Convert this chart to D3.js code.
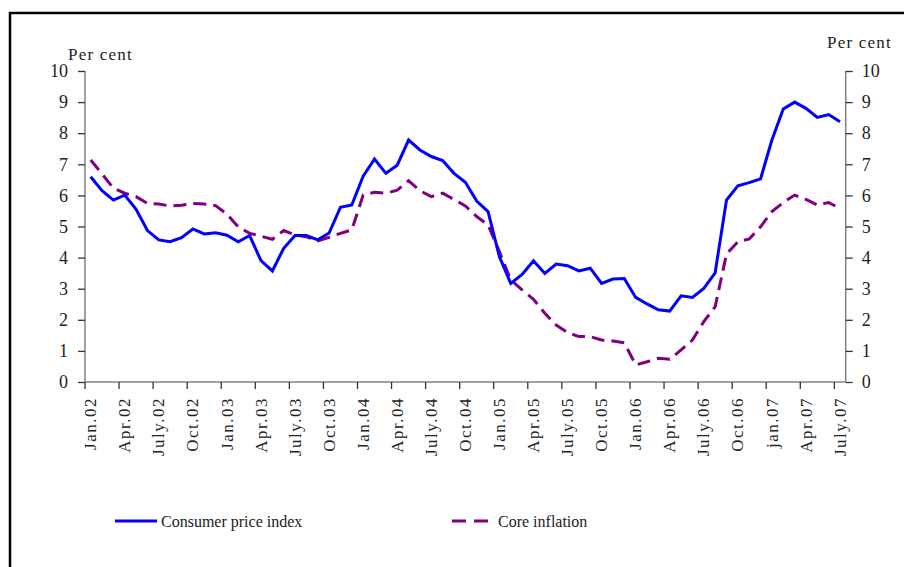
<!DOCTYPE html>
<html>
<head>
<meta charset="utf-8">
<script src="https://cdn.jsdelivr.net/npm/d3@7"></script>
<style>
  body { margin: 0; background: #fff; }
  text { font-family: "Liberation Serif", "Times New Roman", serif; fill: #222; }
</style>
</head>
<body>
<div id="chart"></div>
<script>
//  Categories: months Jan.02 .. July.07
var monthNames = ["Jan","Feb","Mar","Apr","May","June","July","Aug","Sep","Oct","Nov","Dec"];
var categories = [];
for (var yr = 2; yr <= 7; yr++) {
  for (var m = 0; m < 12; m++) {
    if (yr == 7 && m > 6) break;
    categories.push(monthNames[m] + ".0" + yr);
  }
}

//  Tick labels, one every third month
var tickLabels = ["Jan.02","Apr.02","July.02","Oct.02","Jan.03","Apr.03","July.03","Oct.03",
  "Jan.04","Apr.04","July.04","Oct.04","Jan.05","Apr.05","July.05","Oct.05",
  "Jan.06","Apr.06","July.06","Oct.06","jan.07","Apr.07","July.07"];
var yTicks = [0,1,2,3,4,5,6,7,8,9,10];

//  Series values (per cent)
var cpi = [6.60,6.15,5.85,6.01,5.55,4.87,4.57,4.51,4.64,4.92,4.76,4.80,
  4.72,4.51,4.71,3.90,3.57,4.30,4.71,4.71,4.57,4.79,5.62,5.69,
  6.62,7.17,6.71,6.97,7.78,7.46,7.25,7.12,6.71,6.42,5.82,5.48,
  4.03,3.17,3.46,3.90,3.49,3.79,3.74,3.57,3.66,3.17,3.31,3.33,
  2.72,2.51,2.32,2.28,2.77,2.72,3.01,3.51,5.85,6.31,6.41,6.53,
  7.78,8.78,9.00,8.80,8.51,8.60,8.37];
var core = [7.14,6.69,6.23,6.07,5.96,5.74,5.72,5.66,5.68,5.74,5.72,5.67,
  5.40,4.99,4.78,4.69,4.59,4.87,4.73,4.67,4.54,4.65,4.78,4.89,
  6.01,6.10,6.07,6.17,6.47,6.15,5.96,6.07,5.87,5.66,5.32,5.05,
  4.19,3.28,2.96,2.66,2.21,1.83,1.59,1.46,1.46,1.35,1.32,1.26,
  0.55,0.65,0.76,0.73,1.03,1.35,1.94,2.42,4.11,4.51,4.60,4.99,
  5.48,5.77,6.01,5.87,5.69,5.77,5.58];

// ---------------------------------------------------------------------------------- //

var W = 904, H = 567;
var plotLeft = 85, plotRight = 845.7, plotTop = 71, plotBottom = 382;

var svg = d3.select("#chart").append("svg")
  .attr("width", W)
  .attr("height", H);

//  Frame
svg.append("rect")
  .attr("x", 10).attr("y", 13)
  .attr("width", 910).attr("height", 580)
  .attr("fill", "none")
  .attr("stroke", "#000")
  .attr("stroke-width", 2.5);

var x = d3.scaleBand()
  .domain(categories)
  .range([plotLeft, plotRight])
  .padding(0);

var y = d3.scaleLinear()
  .domain([0, 10])
  .range([plotBottom, plotTop]);

function cx(i) { return x(categories[i]) + x.bandwidth() / 2; }

//  Y axes
var yLeft = d3.axisLeft(y).tickValues(yTicks).tickSize(7).tickPadding(10);
var yRight = d3.axisRight(y).tickValues(yTicks).tickSize(7).tickPadding(9);

var gl = svg.append("g").attr("transform", "translate(" + plotLeft + ",0)").call(yLeft);
var gr = svg.append("g").attr("transform", "translate(" + plotRight + ",0)").call(yRight);

[gl, gr].forEach(function(g) {
  g.select(".domain").attr("stroke", "#808080").attr("stroke-width", 1.5)
    .attr("d", "M0," + plotTop + "V" + plotBottom);
  g.selectAll(".tick line").attr("stroke", "#333").attr("stroke-width", 1.3);
  g.selectAll(".tick text")
    .style("font-family", "'Liberation Serif', serif")
    .style("font-size", "18px")
    .attr("fill", "#222");
});

//  X axis
svg.append("line")
  .attr("x1", plotLeft).attr("x2", plotRight)
  .attr("y1", plotBottom).attr("y2", plotBottom)
  .attr("stroke", "#808080")
  .attr("stroke-width", 1.5);

var tickIdx = d3.range(0, categories.length, 3);

svg.selectAll(".xtick")
  .data(tickIdx)
  .enter().append("line")
  .attr("x1", function(i) { return x(categories[i]); })
  .attr("x2", function(i) { return x(categories[i]); })
  .attr("y1", plotBottom).attr("y2", plotBottom + 7)
  .attr("stroke", "#333")
  .attr("stroke-width", 1.3);

svg.selectAll(".xlabel")
  .data(tickIdx)
  .enter().append("text")
  .attr("transform", function(i) { return "translate(" + cx(i) + "," + (plotBottom + 15) + ") rotate(-90)"; })
  .attr("text-anchor", "end")
  .attr("dy", "0.33em")
  .style("font-size", "17px")
  .style("letter-spacing", "1.5px")
  .text(function(i, k) { return tickLabels[k]; });

//  Axis titles
svg.append("text")
  .attr("x", 68).attr("y", 60)
  .style("font-size", "17px")
  .style("letter-spacing", "1.2px")
  .text("Per cent");

svg.append("text")
  .attr("x", 827).attr("y", 48)
  .style("font-size", "17px")
  .style("letter-spacing", "1.2px")
  .text("Per cent");

//  Lines
var line = d3.line()
  .x(function(d, i) { return cx(i); })
  .y(function(d) { return y(d); });

svg.append("path")
  .datum(core)
  .attr("d", line)
  .attr("fill", "none")
  .attr("stroke", "#800080")
  .attr("stroke-width", 3)
  .attr("stroke-dasharray", "13,7");

svg.append("path")
  .datum(cpi)
  .attr("d", line)
  .attr("fill", "none")
  .attr("stroke", "#0000ff")
  .attr("stroke-width", 3);

//  Legend
svg.append("line")
  .attr("x1", 115).attr("x2", 157)
  .attr("y1", 521).attr("y2", 521)
  .attr("stroke", "#0000ff")
  .attr("stroke-width", 3);

svg.append("text")
  .attr("x", 161).attr("y", 527)
  .style("font-size", "16px")
  .text("Consumer price index");

svg.append("line")
  .attr("x1", 452).attr("x2", 489)
  .attr("y1", 521).attr("y2", 521)
  .attr("stroke", "#800080")
  .attr("stroke-width", 3)
  .attr("stroke-dasharray", "14,8");

svg.append("text")
  .attr("x", 498).attr("y", 527)
  .style("font-size", "16px")
  .text("Core inflation");
</script>
</body>
</html>
